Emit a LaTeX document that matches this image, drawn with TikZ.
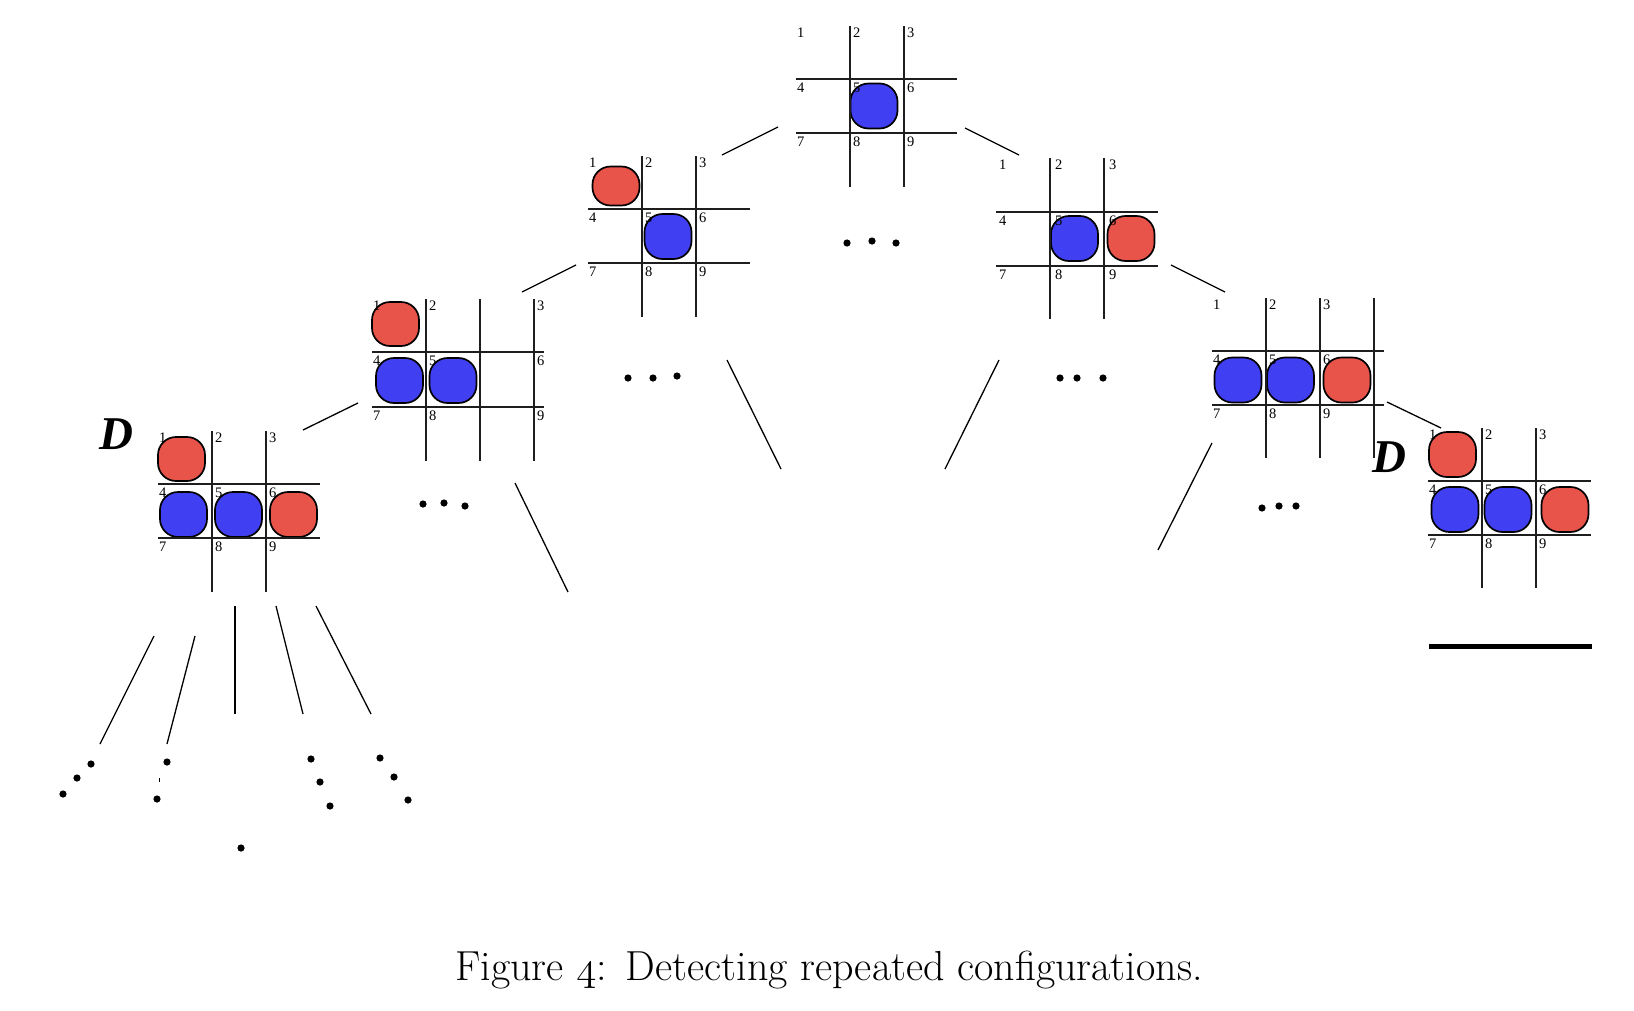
\documentclass[tikz,border=0pt]{standalone}
\usepackage{fontspec}
\newfontfamily\numfont{Liberation Serif}
\definecolor{pieceblue}{RGB}{64,64,242}
\definecolor{piecered}{RGB}{232,83,74}
\definecolor{gridgray}{RGB}{30,30,30}
\tikzset{
  gridline/.style={line width=2pt, draw=gridgray},
  conn/.style={line width=1.3pt, draw=black},
  piecebox/.style={draw=black, line width=1.7pt, rounded corners=18pt},
  numlabel/.style={anchor=north west, inner sep=0pt, font=\numfont\fontsize{14.5}{14.5}\selectfont},
  dlabel/.style={inner sep=0pt, font=\numfont\bfseries\itshape\fontsize{47}{47}\selectfont},
  dotmark/.style={fill=black},
}
% grid: x0, y0, right end, bottom end, hline offsets
\newcommand\tttgrid[6]{%
  \draw[gridline] (#1+54,#2) -- (#1+54,#4);
  \draw[gridline] (#1+108,#2) -- (#1+108,#4);
  \draw[gridline] (#1,#2+#5) -- (#3,#2+#5);
  \draw[gridline] (#1,#2+#6) -- (#3,#2+#6);
}
% labels: prefix, x0, y0, third col offset, row2 offset, row3 offset
\newcommand\tttlabels[6]{%
  \foreach \r/\ry in {0/2,1/#5,2/#6}{
    \foreach \c/\cx in {0/1,1/57,2/#4}{
      \pgfmathtruncatemacro\num{3*\r+\c+1}
      \node[numlabel] (#1-\num) at (#2+\cx,#3+\ry) {\num};
    }
  }
}
% piece: colour, cx, cy, half width, half height
\newcommand\tttpiece[5]{%
  \draw[piecebox, fill=#1] (#2-#4,#3-#5) rectangle (#2+#4,#3+#5);
}
\newcommand\tttdot[2]{\fill[dotmark] (#1,#2) circle (3.6);}
\begin{document}
\begin{tikzpicture}[x=1pt,y=-1pt]
\useasboundingbox[fill=white] (0,0) rectangle (1634,1010);

% ---------- pieces ----------
% G0 top
\tttpiece{pieceblue}{874}{106}{23.5}{22.5}
% G1
\tttpiece{piecered}{616}{186}{23.5}{19.5}
\tttpiece{pieceblue}{668}{236.5}{23.5}{22.5}
% G2
\tttpiece{piecered}{395.5}{324}{23.5}{22}
\tttpiece{pieceblue}{399.5}{380.5}{23.5}{22.5}
\tttpiece{pieceblue}{453}{380.5}{23.5}{22.5}
% G3
\tttpiece{piecered}{181.5}{459}{23.5}{22}
\tttpiece{pieceblue}{183.5}{514.5}{23.5}{22.5}
\tttpiece{pieceblue}{238.5}{514.5}{23.5}{22.5}
\tttpiece{piecered}{293.5}{514.5}{23.5}{22.5}
% G4
\tttpiece{pieceblue}{1074.5}{238.5}{23.5}{22.5}
\tttpiece{piecered}{1131}{238.5}{23.5}{22.5}
% G5
\tttpiece{pieceblue}{1238}{380}{23.5}{22.5}
\tttpiece{pieceblue}{1290.5}{380}{23.5}{22.5}
\tttpiece{piecered}{1347}{380}{23.5}{22.5}
% G6
\tttpiece{piecered}{1452.5}{454.5}{23.5}{22.5}
\tttpiece{pieceblue}{1455}{509.5}{23.5}{22.5}
\tttpiece{pieceblue}{1508}{509.5}{23.5}{22.5}
\tttpiece{piecered}{1565}{509.5}{23.5}{22.5}

% ---------- grids ----------
\tttgrid{796}{26}{957}{187}{53}{107}
\tttgrid{588}{156}{750}{317}{53}{107}
\tttgrid{372}{299}{544}{461}{53}{108}
\draw[gridline] (534,299) -- (534,461);
\tttgrid{158}{431}{320}{592}{53}{107}
\tttgrid{996}{158}{1158}{319}{54}{108}
\tttgrid{1212}{298}{1384}{458}{53}{107}
\draw[gridline] (1374,298) -- (1374,458);
\tttgrid{1428}{428}{1591}{588}{53}{107}

% ---------- labels ----------
\tttlabels{g0}{796}{26}{111}{57}{111}
\tttlabels{g1}{588}{156}{111}{57}{111}
\tttlabels{g2}{372}{299}{165}{57}{112}
\tttlabels{g3}{158}{431}{111}{57}{111}
\tttlabels{g4}{998}{158}{111}{58}{112}
\tttlabels{g5}{1212}{298}{111}{57}{111}
\tttlabels{g6}{1428}{428}{111}{57}{111}

\node[dlabel] (dleft) at (116,434) {D};
\node[dlabel] (dright) at (1389,457) {D};

% ---------- connectors ----------
\coordinate (c1a) at (722,155);  \coordinate (c1b) at (778,127);
\coordinate (c2a) at (965,128);  \coordinate (c2b) at (1019,155);
\coordinate (c3a) at (522,292);  \coordinate (c3b) at (576,265);
\coordinate (c4a) at (1171,265); \coordinate (c4b) at (1225,292);
\coordinate (c5a) at (303,430);  \coordinate (c5b) at (358,403);
\coordinate (c6a) at (1387,402); \coordinate (c6b) at (1441,428);
\coordinate (c7a) at (727,360);  \coordinate (c7b) at (781,469);
\coordinate (c8a) at (999,360);  \coordinate (c8b) at (945,469);
\coordinate (c9a) at (515,483);  \coordinate (c9b) at (568,592);
\coordinate (c10a) at (1212,443); \coordinate (c10b) at (1158,550);
\coordinate (l1a) at (154,636); \coordinate (l1b) at (100,744);
\coordinate (l2a) at (195,636); \coordinate (l2b) at (167,744);
\coordinate (l3a) at (235,606); \coordinate (l3b) at (235,714);
\coordinate (l4a) at (276,606); \coordinate (l4b) at (303,714);
\coordinate (l5a) at (316,606); \coordinate (l5b) at (371,714);
\foreach \p in {c1,c2,c3,c4,c5,c6,c7,c8,c9,c10,l1,l2,l3,l4,l5}
  \draw[conn] (\p a) -- (\p b);

% ---------- ellipsis dots ----------
\tttdot{847}{243}\tttdot{872}{241}\tttdot{896}{243}
\tttdot{628}{378}\tttdot{653}{378}\tttdot{677}{376}
\tttdot{1060}{378}\tttdot{1077}{378}\tttdot{1103}{378}
\tttdot{423}{504}\tttdot{444}{503}\tttdot{465}{506}
\tttdot{1262}{508}\tttdot{1279}{506}\tttdot{1296}{506}
\tttdot{91}{764}\tttdot{77}{778}\tttdot{63}{794}
\tttdot{167}{762}\tttdot{157}{799}
\coordinate (ticka) at (159,778); \coordinate (tickb) at (159,782);
\draw[line width=1pt] (ticka) -- (tickb);
\tttdot{241}{848}
\tttdot{311}{759}\tttdot{320}{782}\tttdot{330}{806}
\tttdot{380}{758}\tttdot{394}{777}\tttdot{408}{800}

% ---------- bold rule ----------
\coordinate (rulea) at (1429,646); \coordinate (ruleb) at (1592,646);
\draw[line width=5pt] (rulea) -- (ruleb);

% ---------- caption ----------
\node[anchor=base, inner sep=0pt, font=\fontsize{42}{42}\selectfont] (caption) at (829,980)
  {Figure \scalebox{1.65}{\usefont{OML}{cmm}{m}{it}4}:\hspace{0.45em}Detecting repeated configurations.};
\end{tikzpicture}
\end{document}
